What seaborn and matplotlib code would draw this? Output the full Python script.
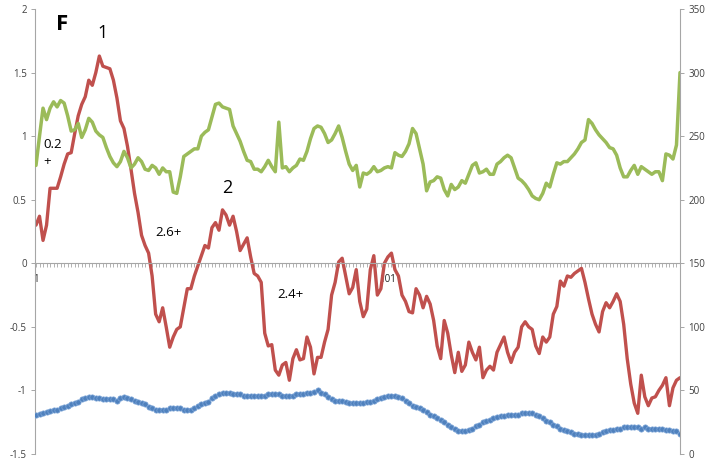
import numpy as np
import pandas as pd
import matplotlib
matplotlib.use("Agg")
import matplotlib.pyplot as plt
import seaborn as sns
from matplotlib.ticker import FuncFormatter

# ---- data ----
red_values = [
    0.30, 0.37, 0.18, 0.30, 0.59, 0.59, 0.59, 0.68, 0.78, 0.86,
    0.87, 1.02, 1.16, 1.25, 1.31, 1.44, 1.40, 1.50, 1.63, 1.55,
    1.54, 1.53, 1.44, 1.30, 1.12, 1.06, 0.92, 0.74, 0.55, 0.40,
    0.22, 0.14, 0.08, -0.10, -0.40, -0.46, -0.35, -0.50, -0.66, -0.58,
    -0.52, -0.50, -0.35, -0.20, -0.20, -0.10, -0.02, 0.06, 0.14, 0.12,
    0.28, 0.32, 0.26, 0.42, 0.38, 0.30, 0.37, 0.25, 0.10, 0.15,
    0.20, 0.05, -0.08, -0.10, -0.15, -0.55, -0.65, -0.64, -0.84, -0.88,
    -0.80, -0.78, -0.92, -0.75, -0.68, -0.76, -0.75, -0.58, -0.66, -0.87,
    -0.74, -0.74, -0.62, -0.52, -0.25, -0.15, 0.01, 0.04, -0.10, -0.24,
    -0.19, -0.05, -0.30, -0.42, -0.36, -0.05, 0.06, -0.25, -0.20, 0.00,
    0.05, 0.08, -0.05, -0.10, -0.25, -0.30, -0.38, -0.39, -0.20, -0.25,
    -0.35, -0.26, -0.32, -0.45, -0.65, -0.75, -0.45, -0.55, -0.72, -0.86,
    -0.70, -0.85, -0.80, -0.62, -0.70, -0.76, -0.66, -0.90, -0.84, -0.81,
    -0.84, -0.70, -0.64, -0.58, -0.70, -0.78, -0.70, -0.66, -0.50, -0.46,
    -0.50, -0.52, -0.65, -0.71, -0.58, -0.62, -0.58, -0.40, -0.34, -0.14,
    -0.18, -0.10, -0.11, -0.08, -0.06, -0.04, -0.15, -0.28, -0.40, -0.48,
    -0.54, -0.38, -0.31, -0.35, -0.30, -0.24, -0.30, -0.48, -0.75, -0.95,
    -1.10, -1.18, -0.88, -1.05, -1.12, -1.06, -1.05, -1.00, -0.96, -0.90,
    -1.12, -0.98, -0.92, -0.90,
]

green_values = [
    227, 250, 272, 263, 272, 277, 273, 278, 276, 266,
    254, 255, 260, 249, 255, 264, 261, 254, 251, 249,
    241, 234, 229, 226, 230, 238, 233, 225, 228, 233,
    230, 224, 223, 227, 225, 220, 225, 222, 222, 206,
    205, 218, 234, 236, 238, 240, 240, 250, 253, 255,
    265, 275, 276, 273, 272, 271, 258, 252, 246, 238,
    231, 230, 224, 224, 222, 226, 231, 226, 222, 261,
    225, 226, 222, 225, 227, 232, 231, 238, 248, 256,
    258, 257, 252, 245, 247, 252, 258, 249, 238, 228,
    223, 227, 210, 221, 220, 222, 226, 222, 223, 225,
    226, 225, 237, 235, 234, 238, 244, 256, 252, 240,
    228, 207, 214, 215, 218, 217, 208, 203, 212, 208,
    210, 215, 213, 220, 227, 229, 221, 222, 224, 220,
    220, 228, 230, 233, 235, 233, 225, 217, 215, 212,
    208, 203, 201, 200, 205, 213, 210, 220, 229, 228,
    230, 230, 233, 236, 240, 245, 247, 263, 260, 255,
    251, 248, 245, 241, 240, 235, 225, 218, 218, 223,
    227, 220, 226, 224, 222, 220, 222, 222, 215, 236,
    235, 232, 243, 300,
]

blue_values = [
    31, 31.5, 32, 33, 34, 35, 35, 36, 37, 38,
    39, 40, 41, 43, 44, 45, 45, 44, 44, 43,
    43, 43, 43, 42, 44, 45, 44, 43, 42, 41,
    40, 39, 37, 36, 35, 35, 35, 35, 36, 36,
    36, 36, 35, 35, 35, 36, 38, 39, 40, 41,
    44, 46, 47, 48, 48, 48, 47, 47, 47, 46,
    46, 46, 46, 46, 46, 46, 47, 47, 47, 47,
    46, 46, 46, 46, 47, 47, 47, 48, 48, 49,
    50, 48, 47, 45, 43, 42, 42, 42, 41, 40,
    40, 40, 40, 40, 41, 41, 42, 43, 44, 45,
    46, 46, 46, 45, 44, 42, 40, 38, 37, 36,
    35, 33, 31, 30, 28, 27, 25, 23, 21, 20,
    18, 18, 18, 19, 20, 22, 23, 25, 26, 27,
    28, 29, 30, 30, 31, 31, 31, 31, 32, 32,
    32, 32, 31, 30, 28, 26, 25, 23, 22, 20,
    19, 18, 17, 16, 16, 15, 15, 15, 15, 15,
    16, 17, 18, 19, 19, 20, 20, 21, 21, 21,
    21, 21, 20, 21, 20, 20, 20, 20, 20, 19,
    19, 18, 18, 16,
]

x_tick_labels = {1: "1", 101: "101"}
left_ticks = [-1.5, -1, -0.5, 0, 0.5, 1, 1.5, 2]
right_ticks = [0, 50, 100, 150, 200, 250, 300, 350]

positions = list(range(1, len(red_values) + 1))
df = pd.DataFrame({"pos": positions, "red": red_values,
                   "green": green_values, "blue": blue_values})

# ---- style ----
sns.set_style("white")
plt.rcParams["font.family"] = ["Open Sans", "DejaVu Sans"]

W, H = 714, 462
fig = plt.figure(figsize=(W / 100, H / 100), dpi=100)
ax = fig.add_axes([35 / W, 8 / H, 645 / W, 445 / H])
ax2 = ax.twinx()

RED = "#C0504D"
GREEN = "#9BBB59"
BLUE = "#4F81BD"
GRAY = "#A6A6A6"
TXT = "#404040"

sns.lineplot(data=df, x="pos", y="red", ax=ax, color=RED, linewidth=2.4)
sns.lineplot(data=df, x="pos", y="green", ax=ax2, color=GREEN, linewidth=2.5)
sns.lineplot(data=df, x="pos", y="blue", ax=ax2, color=BLUE, linewidth=1.2,
             marker="o", markersize=3.8, markeredgecolor="#7FA7DA",
             markeredgewidth=0.5)

ax.set_xlim(0.72, 184.0)
ax.set_ylim(-1.5, 2)
ax2.set_ylim(0, 350)

for a in (ax, ax2):
    a.set_xlabel("")
    a.set_ylabel("")
    a.grid(False)

# left axis
ax.spines["top"].set_visible(False)
ax.spines["right"].set_visible(False)
ax.spines["left"].set_color(GRAY)
ax.spines["left"].set_linewidth(0.8)
ax.spines["bottom"].set_position(("data", 0))
ax.spines["bottom"].set_color(GRAY)
ax.spines["bottom"].set_linewidth(0.8)
ax.set_yticks(left_ticks)
ax.yaxis.set_major_formatter(FuncFormatter(lambda v, p: f"{v:g}"))
ax.tick_params(axis="y", direction="out", length=3, width=0.7, color=GRAY,
               labelsize=7, labelcolor=TXT, pad=3, left=True)
ax.set_xticks(positions)
ax.set_xticklabels([x_tick_labels.get(p, "") for p in positions])
ax.tick_params(axis="x", direction="out", length=3, width=0.6, color=GRAY,
               labelsize=7, labelcolor="#202020", pad=5, bottom=True)

# right axis
for s in ("top", "left", "bottom"):
    ax2.spines[s].set_visible(False)
ax2.spines["right"].set_color(GRAY)
ax2.spines["right"].set_linewidth(0.8)
ax2.set_yticks(right_ticks)
ax2.tick_params(axis="y", direction="out", length=3, width=0.7, color=GRAY,
                labelsize=7, labelcolor=TXT, pad=3, right=True)

# annotations
def ftext(px, py, s, **kw):
    fig.text(px / W, 1 - py / H, s, ha="center", va="center", **kw)

ftext(62, 25, "F", fontsize=16, fontweight="bold", color="black")
ftext(103, 33, "1", fontsize=13, color="black")
ftext(227, 188, "2", fontsize=13, color="black")
ftext(53, 144, "0.2", fontsize=9.5, color="black")
ftext(47, 161, "+", fontsize=9.5, color="black")
ftext(168, 233, "2.6+", fontsize=9.5, color="black")
ftext(290, 294, "2.4+", fontsize=9.5, color="black")

fig.savefig("out.png", dpi=100)
